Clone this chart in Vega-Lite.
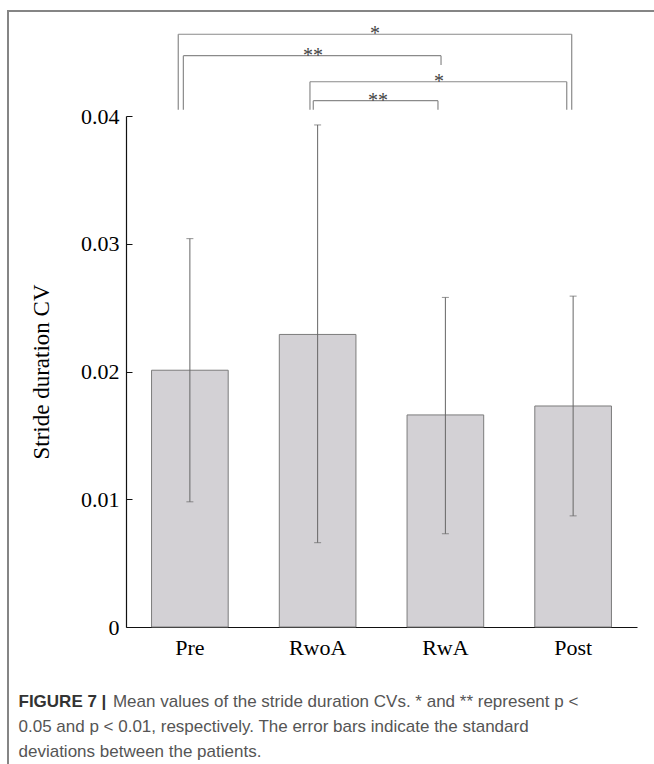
{
  "$schema": "https://vega.github.io/schema/vega-lite/v6.json",
  "width": 511,
  "height": 511,
  "autosize": {"type": "none"},
  "padding": {"left": 126, "top": 116, "right": 17, "bottom": 137},
  "background": "white",
  "config": {"view": {"stroke": null}},
  "datasets": {
    "stats": [
      {"condition": "Pre", "mean": 0.0201, "lower": 0.0098, "upper": 0.0304},
      {"condition": "RwoA", "mean": 0.0229, "lower": 0.0066, "upper": 0.0393},
      {"condition": "RwA", "mean": 0.0166, "lower": 0.0073, "upper": 0.0258},
      {"condition": "Post", "mean": 0.0173, "lower": 0.0087, "upper": 0.0259}
    ],
    "comparisons": [
      {"pair": "Pre-Post", "from": 0.909, "to": 3.989, "level": 0.0464, "fromEnd": 0.04049, "toEnd": 0.04049, "label": "*", "labelAt": 2.449},
      {"pair": "Pre-RwA", "from": 0.949, "to": 2.966, "level": 0.04472, "fromEnd": 0.04049, "toEnd": 0.04399, "label": "**", "labelAt": 1.964},
      {"pair": "RwoA-Post", "from": 1.94, "to": 3.95, "level": 0.04268, "fromEnd": 0.04049, "toEnd": 0.04049, "label": "*", "labelAt": 2.95},
      {"pair": "RwoA-RwA", "from": 1.966, "to": 2.942, "level": 0.0412, "fromEnd": 0.04049, "toEnd": 0.04049, "label": "**", "labelAt": 2.473}
    ]
  },
  "layer": [
    {
      "data": {"name": "stats"},
      "layer": [
        {
          "mark": {"type": "bar", "fill": "#d3d1d5", "stroke": "#7c7c7c", "strokeWidth": 1},
          "encoding": {
            "x": {
              "field": "condition", "type": "nominal", "sort": null,
              "scale": {"paddingInner": 0.4, "paddingOuter": 0.2},
              "axis": {
                "title": [
                  "\u200b\u00a0\u00a0\u00a0\u00a0\u00a0\u00a0\u00a0\u00a0\u00a0\u00a0\u00a0\u00a0\u00a0\u00a0\u00a0\u00a0\u00a0\u00a0\u00a0\u00a0Mean values of the stride duration CVs. * and ** represent p <",
                  "0.05 and p < 0.01, respectively. The error bars indicate the standard",
                  "deviations between the patients."
                ],
                "titleX": -108, "titleY": 79,
                "titleAlign": "left", "titleAnchor": "start", "titleBaseline": "alphabetic",
                "titleFont": "Liberation Sans", "titleFontSize": 17, "titleFontWeight": "normal",
                "titleColor": "#555555", "titleLineHeight": 25,
                "labelAngle": 0, "ticks": false,
                "labelFont": "Liberation Serif", "labelFontSize": 22, "labelColor": "#000000",
                "labelPadding": 10, "domainColor": "#111111", "domainWidth": 1.2
              }
            },
            "y": {
              "field": "mean", "type": "quantitative",
              "scale": {"domain": [0, 0.04], "nice": false, "zero": true},
              "axis": {
                "title": "Stride duration CV",
                "values": [0, 0.01, 0.02, 0.03, 0.04],
                "labelExpr": "datum.value == 0 ? '0' : format(datum.value, '.2f')",
                "grid": false,
                "tickSize": -6, "tickColor": "#111111", "tickWidth": 1,
                "labelFont": "Liberation Serif", "labelFontSize": 22, "labelColor": "#000000",
                "labelPadding": 13,
                "domainColor": "#111111", "domainWidth": 1.2,
                "titleFont": "Liberation Serif", "titleFontSize": 23, "titleFontWeight": "normal",
                "titleColor": "#000000", "titlePadding": 27
              }
            }
          }
        },
        {
          "mark": {"type": "rule", "color": "#666666", "strokeWidth": 1},
          "encoding": {
            "x": {"field": "condition", "type": "nominal", "sort": null},
            "y": {"field": "lower", "type": "quantitative"},
            "y2": {"field": "upper"}
          }
        },
        {
          "mark": {"type": "tick", "color": "#666666", "size": 7, "thickness": 1},
          "encoding": {
            "x": {"field": "condition", "type": "nominal", "sort": null},
            "y": {"field": "upper", "type": "quantitative"}
          }
        },
        {
          "mark": {"type": "tick", "color": "#666666", "size": 7, "thickness": 1},
          "encoding": {
            "x": {"field": "condition", "type": "nominal", "sort": null},
            "y": {"field": "lower", "type": "quantitative"}
          }
        }
      ]
    },
    {
      "data": {"name": "comparisons"},
      "layer": [
        {
          "mark": {"type": "rule", "strokeWidth": 1.2, "clip": false},
          "encoding": {
            "x": {
              "field": "from", "type": "quantitative",
              "scale": {"domain": [0.5, 4.5], "nice": false, "zero": false},
              "axis": {
                "orient": "top", "domain": false, "ticks": false, "labels": false, "grid": false,
                "title": "FIGURE 7 |", "titleX": -108, "titleY": 590,
                "titleAlign": "left", "titleAnchor": "start", "titleBaseline": "alphabetic",
                "titleFont": "Liberation Sans", "titleFontSize": 17, "titleFontWeight": "bold",
                "titleColor": "#333333"
              }
            },
            "x2": {"field": "to"},
            "y": {"field": "level", "type": "quantitative"},
            "color": {
              "datum": "bracket",
              "scale": {"range": ["#8a8a8a"]},
              "legend": {
                "orient": "none", "legendX": -118, "legendY": -105,
                "padding": 420, "strokeColor": "#858585",
                "fillColor": null, "title": null,
                "symbolOpacity": 0, "symbolSize": 1, "labelOpacity": 0,
                "encode": {"legend": {"update": {"strokeWidth": {"value": 2}}}}
              }
            }
          }
        },
        {
          "mark": {"type": "rule", "color": "#8a8a8a", "strokeWidth": 1.2, "clip": false},
          "encoding": {
            "x": {"field": "from", "type": "quantitative"},
            "y": {"field": "level", "type": "quantitative"},
            "y2": {"field": "fromEnd"}
          }
        },
        {
          "mark": {"type": "rule", "color": "#8a8a8a", "strokeWidth": 1.2, "clip": false},
          "encoding": {
            "x": {"field": "to", "type": "quantitative"},
            "y": {"field": "level", "type": "quantitative"},
            "y2": {"field": "toEnd"}
          }
        },
        {
          "mark": {"type": "text", "font": "Liberation Serif", "fontSize": 20, "color": "#444444", "baseline": "alphabetic", "dy": 6, "clip": false},
          "encoding": {
            "x": {"field": "labelAt", "type": "quantitative"},
            "y": {"field": "level", "type": "quantitative"},
            "text": {"field": "label"}
          }
        }
      ]
    }
  ],
  "resolve": {"scale": {"x": "independent"}}
}
